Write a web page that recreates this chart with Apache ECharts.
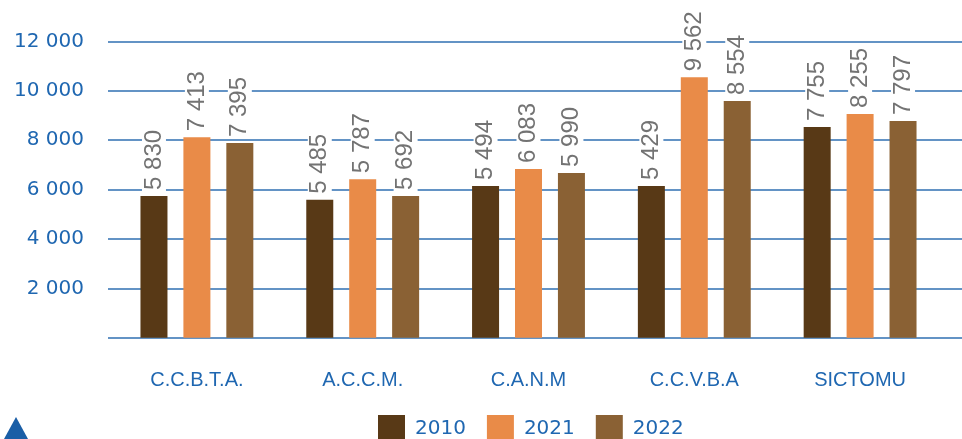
<!DOCTYPE html>
<html>
<head>
<meta charset="utf-8">
<script src="https://cdn.jsdelivr.net/npm/echarts@6/dist/echarts.min.js"></script>
<style>
  html, body { margin: 0; padding: 0; background: #fff; }
  #chart { width: 962px; height: 439px; }
</style>
</head>
<body>
<div id="chart"></div>
<script>
// categories and years
const categories = ['C.C.B.T.A.', 'A.C.C.M.', 'C.A.N.M', 'C.C.V.B.A', 'SICTOMU'];
const years = ['2010', '2021', '2022'];

// bar heights as drawn in the picture
const heights2010 = [5740, 5580, 6140, 6140, 8530];
const heights2021 = [8120, 6420, 6830, 10540, 9060];
const heights2022 = [7880, 5740, 6670, 9580, 8770];

// numbers printed above the bars
const printed2010 = [5830, 5485, 5494, 5429, 7755];
const printed2021 = [7413, 5787, 6083, 9562, 8255];
const printed2022 = [7395, 5692, 5990, 8554, 7797];

const yTicks = [0, 2000, 4000, 6000, 8000, 10000, 12000];
const colors = ['#583916', '#e98b48', '#8a6134'];

const BLUE = '#1f67b1';
const fmt = v => String(v).replace(/\B(?=(\d{3})+(?!\d))/g, ' ');

const chart = echarts.init(document.getElementById('chart'));

function makeSeries(name, heights, printed, color) {
  return {
    name,
    type: 'bar',
    xAxisIndex: 1,
    yAxisIndex: 1,
    barWidth: 27,
    barGap: '59%',
    itemStyle: { color },
    label: {
      show: true,
      position: 'top',
      rotate: 90,
      align: 'left',
      verticalAlign: 'middle',
      distance: 4,
      color: '#737373',
      fontFamily: 'Liberation Sans',
      fontSize: 24,
      backgroundColor: '#fff',
      padding: [0, 2],
      formatter: p => fmt(printed[p.dataIndex])
    },
    data: heights
  };
}

chart.setOption({
  animation: false,
  legend: {
    top: 415,
    left: 378,
    padding: 0,
    itemWidth: 27,
    itemHeight: 27,
    itemGap: 21,
    icon: 'rect',
    textStyle: { color: BLUE, fontFamily: 'DejaVu Sans', fontSize: 20, padding: [8, 0, 0, 5] },
    data: years
  },
  grid: [
    { left: 108, right: 0, top: 41.3, bottom: 101.3 },
    { left: 114, right: 19, top: 41.3, bottom: 101.3 }
  ],
  xAxis: [
    { gridIndex: 0, type: 'category', data: categories, show: false },
    {
      gridIndex: 1,
      type: 'category',
      data: categories,
      axisLine: { show: false },
      axisTick: { show: false },
      axisLabel: { color: BLUE, fontFamily: 'Liberation Sans', fontSize: 20, margin: 33 }
    }
  ],
  yAxis: [
    {
      gridIndex: 0,
      type: 'value',
      min: yTicks[0],
      max: yTicks[yTicks.length - 1],
      interval: 2000,
      axisLine: { show: false },
      axisTick: { show: false },
      splitLine: { lineStyle: { color: '#2f6fb2', width: 1.5 } },
      axisLabel: {
        color: BLUE,
        fontFamily: 'DejaVu Sans',
        fontSize: 20,
        margin: 24,
        padding: [0, 0, 10, 0],
        formatter: v => (v === 0 ? '' : fmt(v))
      }
    },
    { gridIndex: 1, type: 'value', min: 0, max: 12000, show: false }
  ],
  graphic: [{
    type: 'polygon',
    shape: { points: [[4, 439], [16, 417], [28, 439]] },
    style: { fill: '#1a5ea6' }
  }],
  series: [
    makeSeries(years[0], heights2010, printed2010, colors[0]),
    makeSeries(years[1], heights2021, printed2021, colors[1]),
    makeSeries(years[2], heights2022, printed2022, colors[2])
  ]
});
</script>
</body>
</html>
